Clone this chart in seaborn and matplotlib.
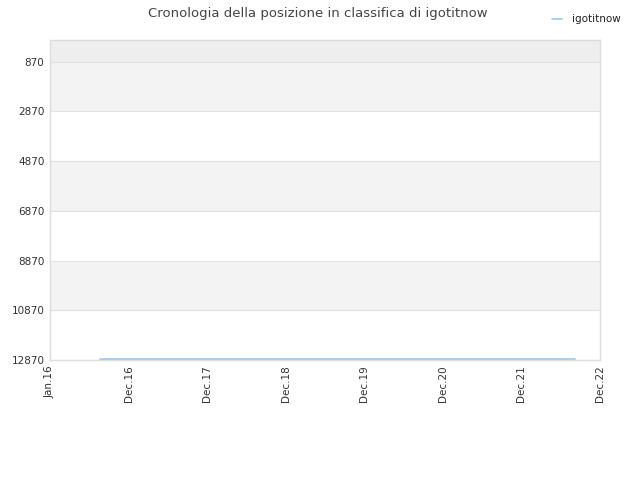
import pandas as pd
import numpy as np
import matplotlib
matplotlib.use("Agg")
import matplotlib.pyplot as plt
import matplotlib.dates as mdates
import seaborn as sns

# rank history of igotitnow (flat near the bottom)
dates = ["2016-07-20", "2017-06-01", "2018-06-01", "2019-06-01",
         "2020-06-01", "2021-06-01", "2022-08-05"]
ranks = [12845, 12845, 12845, 12845, 12845, 12845, 12845]

tick_dates = ["2015-12-01", "2016-12-01", "2017-12-01", "2018-12-01",
              "2019-12-01", "2020-12-01", "2021-12-01", "2022-12-01"]
tick_labels = ["Jan.16", "Dec.16", "Dec.17", "Dec.18", "Dec.19",
               "Dec.20", "Dec.21", "Dec.22"]
y_ticks = [870, 2870, 4870, 6870, 8870, 10870, 12870]

df = pd.DataFrame({"date": pd.to_datetime(dates), "rank": ranks})

sns.set_style("white")
plt.rcParams['font.family'] = ['DejaVu Sans']

fig, ax = plt.subplots(figsize=(6.4, 4.8), dpi=100)
fig.subplots_adjust(left=50/640, right=600/640, top=1-40/480, bottom=1-360/480)

# alternating bands
ax.axhspan(0, 870, color="#eeeeee", zorder=0, lw=0)
for i in range(0, len(y_ticks) - 1):
    if i % 2 == 0:
        ax.axhspan(y_ticks[i], y_ticks[i + 1], color="#f3f3f3", zorder=0, lw=0)

sns.lineplot(data=df, x="date", y="rank", ax=ax, color="#99c8f0", lw=1.2,
             label="igotitnow", zorder=3)

ax.set_ylim(12870, 0)
ax.set_yticks(y_ticks)
ax.set_yticklabels([str(v) for v in y_ticks])
ax.grid(axis="y", color="#e2e2e2", lw=0.8)
ax.set_axisbelow(True)

td = pd.to_datetime(tick_dates)
ax.set_xlim(td[0], td[-1])
ax.set_xticks(td)
ax.set_xticklabels(tick_labels, rotation=90)

ax.set_xlabel("")
ax.set_ylabel("")
ax.tick_params(axis="both", labelsize=7.5, colors="#333333", length=0, pad=4)
for s in ax.spines.values():
    s.set_color("#dddddd")
    s.set_linewidth(1)

fig.suptitle("Cronologia della posizione in classifica di igotitnow",
             x=0.497, y=0.985, fontsize=9.5, color="#444444")

leg = ax.legend(loc="upper right", bbox_to_anchor=(630/640, 475/480),
                bbox_transform=fig.transFigure, frameon=False, fontsize=7.5,
                handlelength=1.0, handletextpad=0.9)
for t in leg.get_texts():
    t.set_color("#222222")

fig.savefig("out.png", dpi=100)
